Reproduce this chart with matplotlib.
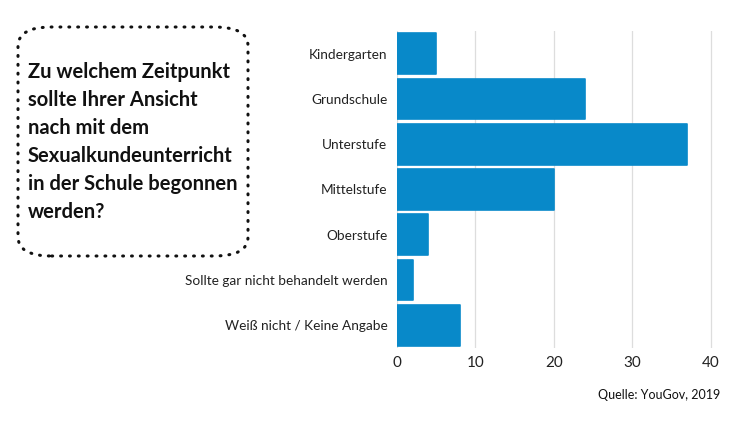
import matplotlib.pyplot as plt
from matplotlib.patches import FancyBboxPatch

categories = ["Kindergarten", "Grundschule", "Unterstufe", "Mittelstufe",
              "Oberstufe", "Sollte gar nicht behandelt werden",
              "Weiß nicht / Keine Angabe"]
values = [5, 24, 37, 20, 4, 2, 8]
xticks = [0, 10, 20, 30, 40]

title = ("Zu welchem Zeitpunkt\nsollte Ihrer Ansicht\nnach mit dem\n"
         "Sexualkundeunterricht\nin der Schule begonnen\nwerden?")
source = "Quelle: YouGov, 2019"

blue = "#0889c9"

fig = plt.figure(figsize=(7.5, 4.22), dpi=100)
ax = fig.add_axes([397 / 750, 1 - 348 / 422, 316 / 750, 317 / 422])

y = list(range(len(categories)))
ax.barh(y, values, height=0.9, color=blue, edgecolor=blue, linewidth=1.2,
        joinstyle="round", zorder=3)
ax.set_ylim(len(categories) - 0.5, -0.5)
ax.set_xlim(0, 40.3)
ax.set_yticks(y)
ax.set_yticklabels(categories, fontsize=9.8, family="Lato", color="#222222")
ax.set_xticks(xticks)
ax.set_xticklabels([str(t) for t in xticks], fontsize=11, family="Lato",
                   color="#222222")
ax.tick_params(length=0)
ax.tick_params(axis="y", pad=7)
ax.tick_params(axis="x", pad=6)
ax.grid(axis="x", color="#dddddd", linewidth=0.9, zorder=0)
for s in ax.spines.values():
    s.set_visible(False)

# dotted rounded box with the question
box = FancyBboxPatch((18 / 750, 1 - 256 / 422), 230 / 750, 229 / 422,
                     boxstyle="round,pad=0,rounding_size=0.045",
                     transform=fig.transFigure, fill=False,
                     edgecolor="#111111", linewidth=2.2,
                     linestyle=(0, (0.3, 2.6)), capstyle="round")
fig.patches.append(box)
fig.text(28 / 750, 1 - 142 / 422, title, fontsize=14.5, fontweight="bold",
         family="Lato", va="center", ha="left", linespacing=1.5,
         color="#111111")

fig.text(720 / 750, 1 - 395 / 422, source, fontsize=9, family="Lato",
         ha="right", va="center", color="#111111")

fig.savefig("out.png", dpi=100)
